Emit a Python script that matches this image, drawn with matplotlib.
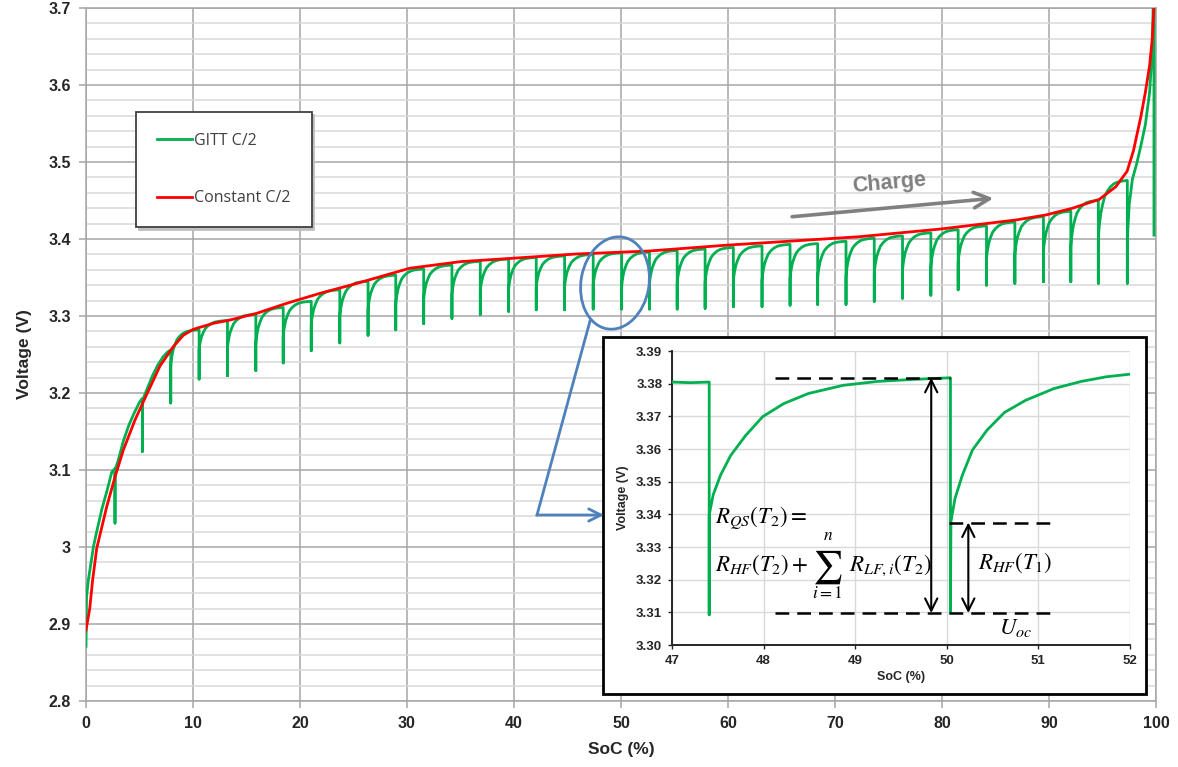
import numpy as np
import matplotlib
matplotlib.use("Agg")
import matplotlib.pyplot as plt
from matplotlib.font_manager import FontProperties
from matplotlib.patches import Ellipse, Rectangle, FancyArrowPatch
from matplotlib.lines import Line2D
from matplotlib.ticker import MultipleLocator


def bfp(size):
    return FontProperties(family=['Liberation Sans', 'DejaVu Sans'], weight='bold', size=size)


plt.rcParams['font.family'] = ['Lato', 'DejaVu Sans']
plt.rcParams['mathtext.fontset'] = 'stix'

# ---------------- data ----------------
# Constant C/2 charge curve
red_soc = [0.0, 0.35, 0.6, 1.0, 1.93, 2.71, 3.49, 4.58, 5.67, 6.91, 8.15, 9.09, 10.03,
           11.9, 13.45, 15.96, 18.76, 21.88, 25.0, 30.25, 35.0, 39.9, 45.8, 52.6,
           59.9, 66.5, 72.3, 79.9, 86.9, 89.7, 92.2, 94.7, 96.25, 97.3, 97.9, 98.6,
           99.0, 99.4, 99.65, 99.8, 100.0]
red_v = [2.892, 2.920, 2.955, 2.998, 3.052, 3.091, 3.126, 3.165, 3.198, 3.235, 3.260,
         3.275, 3.2827, 3.2905, 3.2948, 3.3035, 3.3165, 3.3295, 3.3411, 3.362, 3.3706,
         3.375, 3.3805, 3.3844, 3.392, 3.3978, 3.403, 3.413, 3.4247, 3.4312, 3.440,
         3.4515, 3.468, 3.488, 3.515, 3.560, 3.590, 3.625, 3.660, 3.700, 3.760]

# GITT C/2: first part (start + first two pulses)
gitt_head_soc = [0.0, 0.05, 0.22, 0.69, 1.0, 1.5, 2.0, 2.4, 2.71, 2.71, 2.71, 3.0, 3.5,
                 4.0, 4.5, 5.0, 5.27, 5.27, 5.27, 5.7, 6.2, 6.7, 7.2, 7.6, 7.92]
gitt_head_v = [2.871, 2.935, 2.957, 3.000, 3.020, 3.050, 3.075, 3.097, 3.102, 3.031,
               3.100, 3.112, 3.138, 3.158, 3.174, 3.188, 3.193, 3.124, 3.190, 3.205,
               3.222, 3.236, 3.247, 3.253, 3.256]

# GITT pulses (from the 3rd one on): position, voltage before, lowest, after jump
pulse_soc = [7.92, 10.57, 13.22, 15.87, 18.43, 21.05, 23.72, 26.36, 28.95, 31.56,
             34.20, 36.85, 39.50, 42.08, 44.73, 47.40, 50.06, 52.66, 55.25, 57.86,
             60.50, 63.18, 65.80, 68.38, 71.03, 73.67, 76.31, 78.96, 81.51, 84.16,
             86.81, 89.48, 92.04, 94.61, 97.32]
pulse_top = [3.256, 3.282, 3.294, 3.302, 3.311, 3.319, 3.334, 3.345, 3.353, 3.361,
             3.366, 3.371, 3.374, 3.376, 3.378, 3.380, 3.382, 3.383, 3.385, 3.387,
             3.389, 3.391, 3.393, 3.394, 3.397, 3.401, 3.404, 3.408, 3.412, 3.417,
             3.422, 3.429, 3.436, 3.450, 3.476]
pulse_bottom = [3.187, 3.218, 3.2225, 3.229, 3.239, 3.255, 3.265, 3.275, 3.282, 3.290,
                3.297, 3.302, 3.306, 3.308, 3.308, 3.309, 3.309, 3.309, 3.309, 3.310,
                3.312, 3.312, 3.314, 3.315, 3.315, 3.319, 3.323, 3.327, 3.334, 3.340,
                3.3425, 3.3445, 3.3445, 3.3425, 3.3425]
pulse_jump = [3.235, 3.256, 3.258, 3.263, 3.273, 3.288, 3.299, 3.308, 3.315, 3.322,
              3.328, 3.332, 3.335, 3.337, 3.338, 3.340, 3.338, 3.341, 3.342, 3.343,
              3.345, 3.346, 3.348, 3.349, 3.351, 3.355, 3.359, 3.363, 3.369, 3.374,
              3.379, 3.383, 3.389, 3.399, 3.400]
# relaxation shape (fraction of interval, fraction of recovery)
relax_t = [0.0, 0.018, 0.048, 0.09, 0.15, 0.22, 0.31, 0.42, 0.55, 0.70, 0.85, 1.0]
relax_f = [0.0, 0.15, 0.30, 0.46, 0.60, 0.73, 0.82, 0.895, 0.95, 0.978, 0.993, 1.0]
# final part after the last pulse
gitt_tail_soc = [97.5, 97.8, 98.2, 98.6, 99.0, 99.4, 99.65, 99.8, 99.81, 99.81]
gitt_tail_v = [3.445, 3.478, 3.498, 3.522, 3.548, 3.590, 3.645, 3.750, 3.750, 3.405]

# inset: zoom of GITT around 47-52 % SoC
inset_soc = [47.0, 47.2, 47.406, 47.406, 47.406, 47.45, 47.53, 47.64, 47.80, 47.99, 48.22,
             48.49, 48.87, 49.25, 49.63, 50.04, 50.04, 50.045, 50.09, 50.17, 50.28, 50.44,
             50.63, 50.86, 51.17, 51.47, 51.74, 52.0]
inset_v = [3.3805, 3.3803, 3.3805, 3.3093, 3.3398, 3.3460, 3.3520, 3.3580, 3.3640, 3.3699,
           3.3739, 3.3770, 3.3795, 3.3807, 3.3813, 3.3818, 3.3098, 3.3378, 3.3449, 3.3520,
           3.3597, 3.3658, 3.3712, 3.3749, 3.3785, 3.3807, 3.3821, 3.3829]

x_ticks = [0, 10, 20, 30, 40, 50, 60, 70, 80, 90, 100]
y_ticks = [2.8, 2.9, 3.0, 3.1, 3.2, 3.3, 3.4, 3.5, 3.6, 3.7]
y_tick_labels = ['2.8', '2.9', '3', '3.1', '3.2', '3.3', '3.4', '3.5', '3.6', '3.7']
inset_x_ticks = [47, 48, 49, 50, 51, 52]
inset_y_ticks = [3.30, 3.31, 3.32, 3.33, 3.34, 3.35, 3.36, 3.37, 3.38, 3.39]

# ---------------- build GITT trace ----------------
gx = list(gitt_head_soc)
gy = list(gitt_head_v)
for k in range(len(pulse_soc)):
    s = pulse_soc[k]
    gx += [s, s]
    gy += [pulse_bottom[k], pulse_jump[k]]
    if k + 1 < len(pulse_soc):
        s2 = pulse_soc[k + 1]
        v2 = pulse_top[k + 1]
        for t, f in zip(relax_t[1:], relax_f[1:]):
            gx.append(s + t * (s2 - s))
            gy.append(pulse_jump[k] + f * (v2 - pulse_jump[k]))
gx += gitt_tail_soc
gy += gitt_tail_v

# ---------------- figure ----------------
W, H = 1178, 767
fig = plt.figure(figsize=(W / 100, H / 100), dpi=100)
ax = fig.add_axes([86 / W, 1 - 701 / H, (1156 - 86) / W, (701 - 8) / H])

GREEN = '#00b050'
RED = '#ff0000'
ax.plot(gx, gy, color=GREEN, lw=2.0, label='GITT C/2', zorder=3)
ax.plot(red_soc, red_v, color=RED, lw=2.0, label='Constant C/2', zorder=4)

ax.set_xlim(0, 100)
ax.set_ylim(2.8, 3.7)
ax.set_xticks(x_ticks)
ax.set_xticklabels([str(v) for v in x_ticks], fontproperties=bfp(11.5))
ax.set_yticks(y_ticks)
ax.set_yticklabels(y_tick_labels, fontproperties=bfp(11.5))
ax.yaxis.set_minor_locator(MultipleLocator(0.02))
ax.grid(which='major', color='#a6a6a6', lw=1.1)
ax.grid(which='minor', axis='y', color='#d9d9d9', lw=1.1)
ax.set_axisbelow(True)
for sp in ax.spines.values():
    sp.set_color('#a6a6a6')
    sp.set_linewidth(1.1)
ax.tick_params(which='major', length=5, width=1.1, color='#a6a6a6', labelcolor='#262626', pad=6)
ax.tick_params(which='minor', length=0)
ax.set_xlabel('SoC (%)', fontproperties=bfp(12.5), color='#262626', labelpad=8)
ax.set_ylabel('Voltage (V)', fontproperties=bfp(12.5), color='#262626', labelpad=12)

leg = ax.legend(loc='upper left', bbox_to_anchor=(0.0467, 0.85), borderaxespad=0,
                frameon=True, fancybox=False, edgecolor='#404040',
                prop=FontProperties(family=['Open Sans', 'Lato', 'DejaVu Sans'], size=11.5),
                labelspacing=2.6, handlelength=2.2, handletextpad=0.15, borderpad=1.3,
                framealpha=1, shadow={'color': '#bfbfbf', 'alpha': 1})
leg.get_frame().set_linewidth(1.3)
for txt in leg.get_texts():
    txt.set_color('#404040')

# "Charge" arrow
ax.annotate('', xy=(85.06, 3.4532), xytext=(65.73, 3.4286),
            arrowprops=dict(arrowstyle='->', color='#808080', lw=2.6, mutation_scale=28),
            zorder=5)
ax.text(75.07, 3.4727, 'Charge', color='#808080', fontproperties=bfp(15.5),
        rotation=5, ha='center', va='center', zorder=5)

# blue ellipse and pointer (figure inches)
BLUE = '#4f81bd'
ell = Ellipse((6.15, (H - 283) / 100), 0.68, 0.93, angle=-10, fill=False,
              edgecolor=BLUE, lw=2.0, transform=fig.dpi_scale_trans, zorder=6)
fig.add_artist(ell)
fig.add_artist(Line2D([5.90, 5.37], [(H - 321) / 100, (H - 515) / 100], color=BLUE,
                      lw=2.0, transform=fig.dpi_scale_trans, zorder=6))
fig.add_artist(FancyArrowPatch((5.37, (H - 515) / 100), (6.04, (H - 515) / 100),
                               arrowstyle='->', color=BLUE, lw=2.0, mutation_scale=22,
                               shrinkA=0, shrinkB=0, transform=fig.dpi_scale_trans,
                               zorder=6))

# inset frame
box = Rectangle((603 / W, 1 - 694 / H), (1146 - 603) / W, (694 - 337) / H,
                facecolor='white', edgecolor='black', lw=2.0,
                transform=fig.transFigure, zorder=4)
fig.add_artist(box)

axi = fig.add_axes([672 / W, 1 - 645 / H, (1130 - 672) / W, (645 - 351) / H], zorder=5)
axi.set_facecolor('white')
axi.plot(inset_soc, inset_v, color=GREEN, lw=2.0, zorder=3)
axi.set_xlim(47, 52)
axi.set_ylim(3.30, 3.39)
axi.set_xticks(inset_x_ticks)
axi.set_xticklabels([str(v) for v in inset_x_ticks], fontproperties=bfp(9.5))
axi.set_yticks(inset_y_ticks)
axi.set_yticklabels(['%.2f' % v for v in inset_y_ticks], fontproperties=bfp(9.5))
axi.grid(color='#d9d9d9', lw=1.0)
axi.set_axisbelow(True)
axi.spines['top'].set_visible(False)
axi.spines['right'].set_visible(False)
axi.spines['left'].set_color('#262626')
axi.spines['bottom'].set_color('#262626')
axi.spines['left'].set_linewidth(1.4)
axi.spines['bottom'].set_linewidth(1.4)
axi.tick_params(length=3, width=1, color='#262626', labelcolor='#262626', pad=4)
axi.set_xlabel('SoC (%)', fontproperties=bfp(9), color='#262626', labelpad=3)
axi.set_ylabel('Voltage (V)', fontproperties=bfp(9), color='#262626', labelpad=5)

dash = dict(color='black', lw=1.8, dashes=(5.5, 3.2), zorder=4)
axi.plot([48.12, 50.04], [3.3818, 3.3818], **dash)
axi.plot([48.12, 51.13], [3.3098, 3.3098], **dash)
axi.plot([50.02, 51.17], [3.3375, 3.3375], **dash)
axi.annotate('', xy=(49.83, 3.3098), xytext=(49.83, 3.3818),
             arrowprops=dict(arrowstyle='<->', color='black', lw=1.5, mutation_scale=22,
                             shrinkA=0, shrinkB=0), zorder=5)
axi.annotate('', xy=(50.235, 3.3098), xytext=(50.235, 3.3375),
             arrowprops=dict(arrowstyle='<->', color='black', lw=1.5, mutation_scale=22,
                             shrinkA=0, shrinkB=0), zorder=5)
MS = 16.5
axi.text(47.47, 3.3388, r'$R_{QS}(T_2) =$', fontsize=MS, ha='left', va='center', zorder=6)
axi.text(47.47, 3.3245, r'$R_{HF}(T_2) +$', fontsize=MS, ha='left', va='center', zorder=6)
axi.text(48.70, 3.3238, r'$\sum$', fontsize=24, ha='center', va='center', zorder=6)
axi.text(48.70, 3.3336, r'$n$', fontsize=12.5, ha='center', va='center', zorder=6)
axi.text(48.70, 3.3158, r'$i=1$', fontsize=12.5, ha='center', va='center', zorder=6)
axi.text(48.93, 3.3245, r'$R_{LF,i}(T_2)$', fontsize=MS, ha='left', va='center', zorder=6)
axi.text(50.34, 3.3251, r'$R_{HF}(T_1)$', fontsize=MS, ha='left', va='center', zorder=6)
axi.text(50.57, 3.3053, r'$U_{oc}$', fontsize=MS, ha='left', va='center', zorder=6)

fig.savefig('out.png', dpi=100)
